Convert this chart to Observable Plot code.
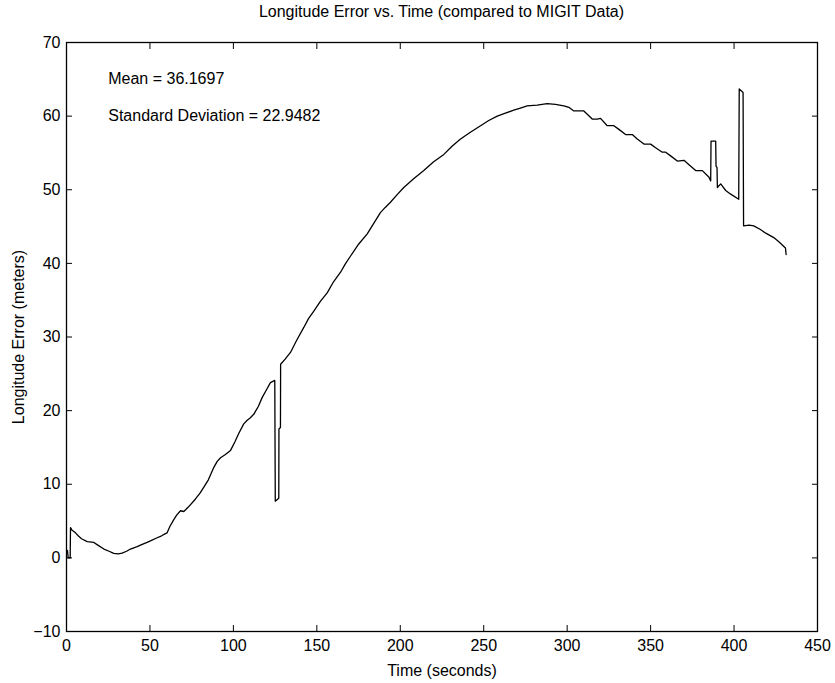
<!DOCTYPE html>
<html>
<head>
<meta charset="utf-8">
<script src="https://cdn.jsdelivr.net/npm/d3@7"></script>
<script src="https://cdn.jsdelivr.net/npm/@observablehq/plot@0.6"></script>
<style>
  html, body { margin: 0; padding: 0; background: #fff; }
  #title { height: 30px; line-height: 24px; box-sizing: border-box; padding-left: 66px; padding-right: 18px; text-align: center; font-family: "Liberation Sans", Arial, sans-serif; font-size: 16px; color: #000; }
</style>
</head>
<body>
<div id="title">Longitude Error vs. Time (compared to MIGIT Data)</div>
<div id="chart"></div>
<script>
const timeSec = [0.6,1.0,2.2,2.4,3.2,5.4,7,9,12.4,16.4,19,22.4,25.5,28.3,31,33.3,36,38.3,42,45,48.3,50.3,54,57,59.3,60.3,62,64.3,66,68.3,70.3,73,77.3,80,82.3,85,88.3,90.3,92.3,95,98.3,101,103.2,106.2,108.3,110,112.2,115,117.3,120,122.2,124.8,125.1,127.2,127.3,128.2,128.3,131,134.2,138,142.2,145,148.2,152,156.2,160,164.2,167,170.2,175,180.2,184,188.1,191,194.1,198,202.1,208,214.1,220,226.1,231,236.1,242,248.1,253,258.1,263,268,272,276,282,288,293,298,301,304,307,310,315,318,320,324,328,331,335,339,342,346,350,353,357,359,362,366,370,373,377,381,385,386,386.2,389,389.2,389.8,390,392,395,398,402.8,403.1,405.4,405.7,409,411.8,415.8,419,423.8,427,430.8,431.2];
const lonError = [1.0,0.0,0.0,4.1,3.8,3.4,3.0,2.6,2.2,2.1,1.7,1.2,0.9,0.6,0.55,0.64,0.9,1.2,1.5,1.8,2.1,2.3,2.7,3.0,3.3,3.4,4.3,5.2,5.8,6.4,6.3,6.9,8.0,8.8,9.6,10.6,12.3,13.1,13.6,14.0,14.6,15.8,16.9,18.2,18.7,19.0,19.5,20.6,21.8,22.9,23.8,24.1,7.7,8.1,17.5,17.7,26.3,27.0,27.9,29.6,31.3,32.5,33.5,34.8,36.0,37.5,38.8,39.9,41.0,42.6,44.0,45.4,46.9,47.6,48.3,49.3,50.3,51.5,52.6,53.8,54.8,55.9,56.9,57.8,58.7,59.4,60.0,60.4,60.8,61.1,61.4,61.5,61.7,61.6,61.4,61.2,60.7,60.7,60.7,59.6,59.6,59.7,58.7,58.7,58.2,57.5,57.5,56.9,56.2,56.2,55.7,55.1,55.1,54.6,53.9,54.0,53.4,52.6,52.6,51.7,51.2,56.6,56.6,53.2,53.0,50.3,50.8,49.9,49.4,48.7,63.7,63.2,45.1,45.2,45.1,44.6,44.1,43.5,42.9,42.1,41.2];
const xTicks = [0,50,100,150,200,250,300,350,400,450];
const yTicks = [-10,0,10,20,30,40,50,60,70];
const noteText = ["Mean = 36.1697", "Standard Deviation = 22.9482"];
const noteX = [25, 25];
const noteY = [65, 60];

const data = timeSec.map((t, i) => ({t, v: lonError[i]}));
const notes = noteText.map((s, i) => ({s, x: noteX[i], y: noteY[i]}));
const blank = () => "";

const chart = Plot.plot({
  width: 835,
  height: 653,
  marginTop: 12,
  marginBottom: 52,
  marginLeft: 66,
  marginRight: 18,
  style: {fontFamily: "'Liberation Sans', Arial, sans-serif", fontSize: "16px", color: "#000", background: "#fff"},
  x: {domain: [0, 450]},
  y: {domain: [-10, 70]},
  marks: [
    Plot.frame({stroke: "#000", strokeWidth: 1.3}),
    Plot.axisX(xTicks, {anchor: "bottom", tickSize: 0, tickPadding: 8, label: "Time (seconds)", labelAnchor: "center", labelOffset: 44, labelArrow: "none"}),
    Plot.axisX(xTicks, {anchor: "bottom", tickSize: -6, tickFormat: blank, label: null}),
    Plot.axisX(xTicks, {anchor: "top", tickSize: -6, tickFormat: blank, label: null}),
    Plot.axisY(yTicks, {anchor: "left", tickSize: 0, tickPadding: 6, label: "Longitude Error (meters)", labelAnchor: "center", labelOffset: 54, labelArrow: "none"}),
    Plot.axisY(yTicks, {anchor: "left", tickSize: -6, tickFormat: blank, label: null}),
    Plot.axisY(yTicks, {anchor: "right", tickSize: -6, tickFormat: blank, label: null}),
    Plot.line(data, {x: "t", y: "v", stroke: "#000", strokeWidth: 1.3}),
    Plot.text(notes, {x: "x", y: "y", text: "s", textAnchor: "start", fontSize: 16, fill: "#000"})
  ]
});
document.getElementById("chart").appendChild(chart);
</script>
</body>
</html>
